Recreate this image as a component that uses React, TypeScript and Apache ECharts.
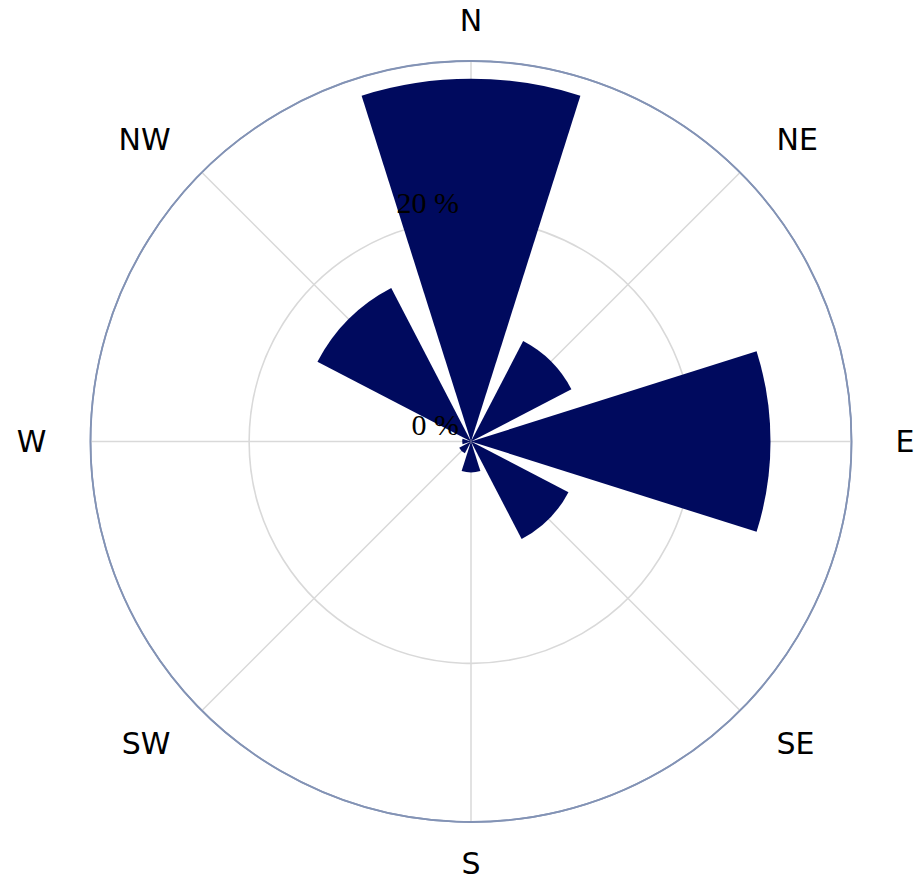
import React, { useEffect, useRef } from 'react';
import * as echarts from 'echarts';

const directions = ['N', 'NE', 'E', 'SE', 'S', 'SW', 'W', 'NW'];
const frequency = [32.7, 10.2, 27.0, 9.9, 2.8, 1.2, 0.8, 15.6];
const radialMax = 34.3;
const radialStep = 20;

export default function App() {
  const ref = useRef<HTMLDivElement>(null);
  useEffect(() => {
    document.body.style.margin = '0';
    const chart = echarts.init(ref.current!, null, { renderer: 'svg' });
    const center = [471, 441.5];
    const radius = 380.5;
    const labelData = directions.map((d) =>
      d === 'SW' || d === 'NW' ? { value: d, textStyle: { padding: [0, 13, 0, 13] } } : d
    );
    chart.setOption({
      animation: false,
      backgroundColor: '#ffffff',
      polar: [
        { center, radius },
        { center, radius },
      ],
      angleAxis: [
        {
          // bars + grid circles (full circle, bands centred on directions)
          polarIndex: 0,
          type: 'category',
          data: directions,
          startAngle: 90 + 180 / directions.length,
          boundaryGap: true,
          z: 1,
          axisLine: { show: true, lineStyle: { color: '#8393b5', width: 1.8 } },
          axisTick: { show: false },
          axisLabel: { show: false },
          splitLine: { show: false },
        },
        {
          // direction labels + spokes
          polarIndex: 1,
          type: 'category',
          data: labelData,
          startAngle: 90,
          boundaryGap: false,
          z: 1,
          axisLine: { show: false },
          axisTick: { show: false },
          axisLabel: {
            margin: 26,
            padding: [0, 18, 0, 18],
            fontFamily: 'DejaVu Sans',
            fontSize: 30,
            color: '#000000',
          },
          splitLine: { show: true, lineStyle: { color: '#d9d9d9', width: 1.5 } },
        },
      ],
      radiusAxis: [
        {
          polarIndex: 0,
          min: 0,
          max: radialMax,
          interval: radialStep,
          z: 1,
          axisLine: { show: false },
          axisTick: { show: false },
          axisLabel: { show: false },
          splitLine: {
            show: true,
            lineStyle: { color: ['#d9d9d9', '#d9d9d9', '#8393b5'], width: 1.6 },
          },
        },
        {
          polarIndex: 1,
          min: 0,
          max: radialMax,
          interval: radialStep,
          z: 10,
          axisLine: { show: false },
          axisTick: { show: false },
          splitLine: { show: false },
          axisLabel: {
            formatter: '{value} %',
            showMaxLabel: false,
            margin: 12,
            align: 'right',
            verticalAlign: 'bottom',
            padding: [0, 0, 2, 0],
            fontFamily: 'Liberation Serif',
            fontSize: 30,
            color: '#000000',
          },
        },
      ],
      series: [
        {
          type: 'bar',
          coordinateSystem: 'polar',
          polarIndex: 0,
          data: frequency,
          barCategoryGap: '22%',
          itemStyle: { color: '#000a5e' },
          z: 3,
        },
      ],
    });
    return () => chart.dispose();
  }, []);
  return <div ref={ref} style={{ width: 924, height: 884 }} />;
}
